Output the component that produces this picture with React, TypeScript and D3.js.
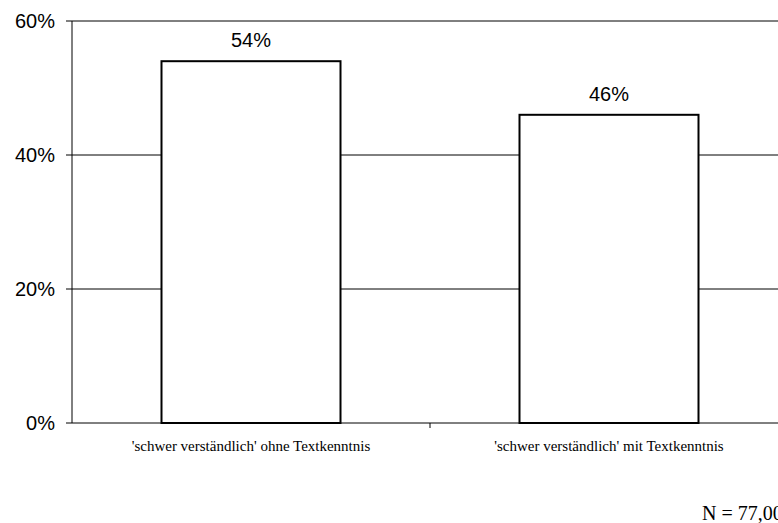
import React from "react";
import * as d3 from "d3";

const categories = [
  "'schwer verständlich' ohne Textkenntnis",
  "'schwer verständlich' mit Textkenntnis",
];
const values = [54, 46];
const yTicks = [0, 20, 40, 60];
const footnote = "N = 77,00";

const W = 778;
const H = 523;
const plot = { left: 72, right: 788, top: 21, bottom: 423 };
const SANS = "'Liberation Sans', Arial, sans-serif";
const SERIF = "'Liberation Serif', 'Times New Roman', serif";

export default function App() {
  const x = d3
    .scaleBand<string>()
    .domain(categories)
    .range([plot.left, plot.right])
    .paddingInner(0.5)
    .paddingOuter(0.25);
  const y = d3.scaleLinear().domain([0, 60]).range([plot.bottom, plot.top]);
  const band = d3.scaleBand<string>().domain(categories).range([plot.left, plot.right]);

  return (
    <svg
      width={W}
      height={H}
      style={{ position: "absolute", left: 0, top: 0, background: "#fff" }}
    >
      {/* horizontal gridlines and y tick labels */}
      {yTicks.map((t) => (
        <g key={t}>
          <line x1={plot.left - 6} x2={W} y1={y(t)} y2={y(t)} stroke="#000" strokeWidth={1} />
          <text
            x={plot.left - 17}
            y={y(t)}
            dy="0.35em"
            textAnchor="end"
            fontFamily={SANS}
            fontSize={20}
          >
            {t}%
          </text>
        </g>
      ))}
      {/* y axis */}
      <line x1={plot.left} x2={plot.left} y1={plot.top} y2={plot.bottom} stroke="#000" />
      {/* category separators */}
      {categories.slice(1).map((c) => (
        <line
          key={c}
          x1={band(c)!}
          x2={band(c)!}
          y1={plot.bottom}
          y2={plot.bottom + 5}
          stroke="#000"
        />
      ))}
      {/* bars */}
      {categories.map((c, i) => (
        <g key={c}>
          <rect
            x={x(c)!}
            y={y(values[i])}
            width={x.bandwidth()}
            height={y(0) - y(values[i])}
            fill="#fff"
            stroke="#000"
            strokeWidth={2}
          />
          <text
            x={x(c)! + x.bandwidth() / 2}
            y={y(values[i]) - 14}
            textAnchor="middle"
            fontFamily={SANS}
            fontSize={20}
          >
            {values[i]}%
          </text>
          <text
            x={x(c)! + x.bandwidth() / 2}
            y={plot.bottom + 28}
            textAnchor="middle"
            fontFamily={SERIF}
            fontSize={15}
          >
            {c}
          </text>
        </g>
      ))}
      <text x={702} y={520} fontFamily={SERIF} fontSize={20}>
        {footnote}
      </text>
    </svg>
  );
}
